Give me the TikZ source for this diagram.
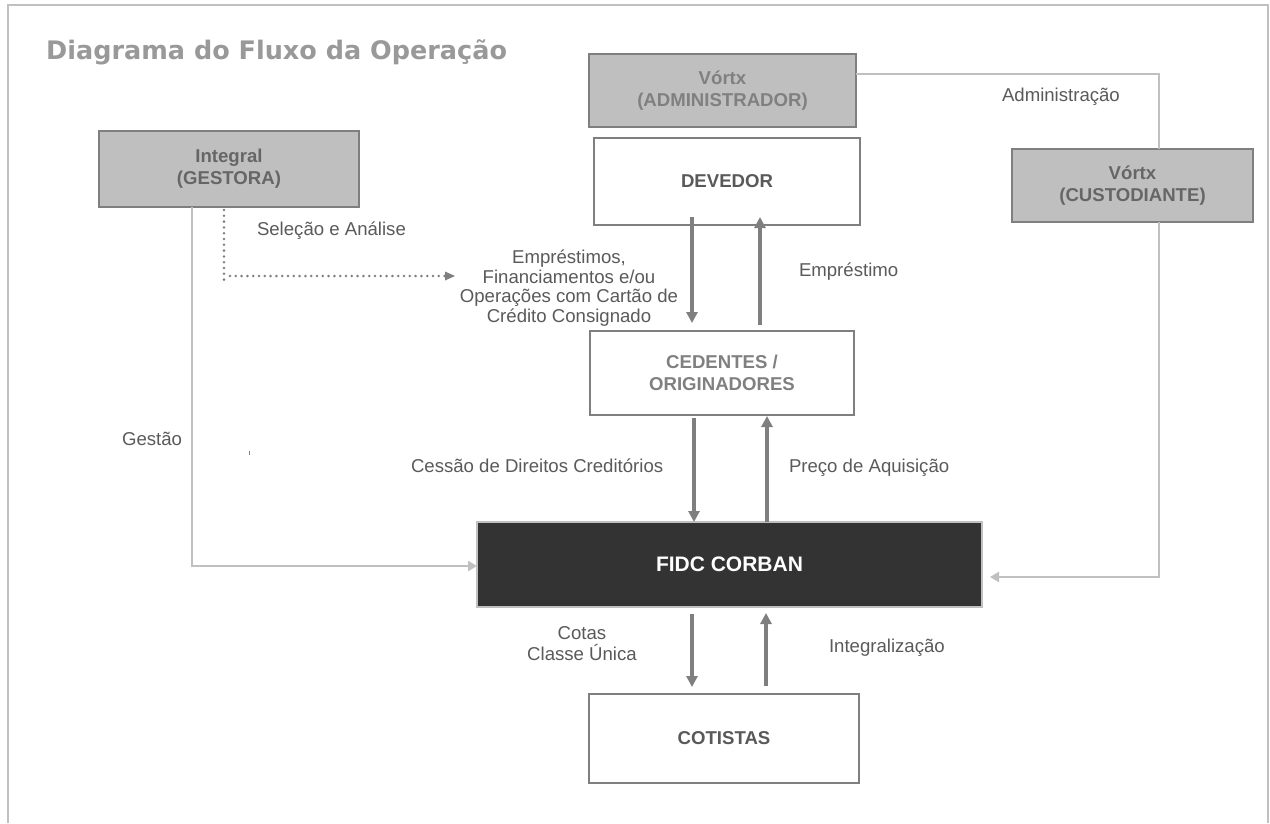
\documentclass[tikz,border=0pt]{standalone}
\usepackage{fontspec}
\setmainfont{Liberation Sans}
\newfontfamily\titlefont{DejaVu Sans}
\usetikzlibrary{arrows.meta}
\definecolor{boxgray}{HTML}{BFBFBF}
\definecolor{edgegray}{HTML}{7F7F7F}
\definecolor{lightline}{HTML}{C0C0C0}
\definecolor{labelgray}{HTML}{5A5A5A}
\definecolor{txtmid}{HTML}{666666}
\definecolor{txtlight}{HTML}{808080}
\definecolor{txtdark}{HTML}{595959}
\definecolor{titlegray}{HTML}{999999}
\definecolor{fidcfill}{HTML}{333333}
\tikzset{
  lbl/.style={font=\fontsize{18.6}{19.5}\selectfont, text=labelgray, inner sep=0pt, outer sep=0pt},
  boxbase/.style={rectangle, inner sep=0pt, outer sep=0pt, align=center,
    font=\fontsize{18.6}{22}\selectfont\bfseries},
  graybox/.style={boxbase, fill=boxgray, draw=edgegray, line width=2pt},
  whitebox/.style={boxbase, fill=white, draw=edgegray, line width=2pt},
  darkarrow/.style={draw=edgegray, line width=3.4pt, -{Triangle[length=11pt,width=11pt]}},
  lightline/.style={draw=lightline, line width=2.6pt},
  lightarrow/.style={lightline, -{Triangle[length=9pt,width=10pt]}},
  dotline/.style={draw=edgegray, line width=2.8pt, line cap=round, dash pattern=on 0pt off 5.8pt},
}
\begin{document}
\begin{tikzpicture}[x=1pt,y=-1pt]
\useasboundingbox (0,0) rectangle (1270,823);
\fill[white] (0,0) rectangle (1270,823);
% frame
\draw[lightline, line width=2pt] (8,823) -- (8,5) -- (1268,5) -- (1268,823);

% title
\node[anchor=base west, inner sep=0pt, text=titlegray,
      font=\titlefont\bfseries\fontsize{25.5}{28}\selectfont] (title) at (46,59)
      {Diagrama do Fluxo da Operação};

% boxes
\node[graybox, text=txtmid, minimum width=260pt, minimum height=76pt] (gest) at (229,169) {Integral\\(GESTORA)};
\node[graybox, text=txtlight, minimum width=267pt, minimum height=73pt] (admin) at (722.5,90.5) {Vórtx\\(ADMINISTRADOR)};
\node[whitebox, text=txtdark, minimum width=266pt, minimum height=87pt] (dev) at (727,181.5) {DEVEDOR};
\node[graybox, text=txtmid, minimum width=241pt, minimum height=73pt] (cust) at (1132.5,185.5) {Vórtx\\(CUSTODIANTE)};
\node[whitebox, text=txtlight, minimum width=264pt, minimum height=84pt] (ced) at (722,373) {CEDENTES /\\ORIGINADORES};
\node[boxbase, fill=fidcfill, draw=lightline, line width=2.4pt, text=white,
      font=\fontsize{21}{24}\selectfont\bfseries,
      minimum width=505pt, minimum height=85pt] (fidc) at (729.5,564.5) {FIDC CORBAN};
\node[whitebox, text=txtdark, minimum width=270pt, minimum height=89pt] (cot) at (724,738.5) {COTISTAS};

% helper coordinates
\coordinate (xa) at (692,0);
\coordinate (xb) at (760,0);
\coordinate (xc) at (694,0);
\coordinate (xd) at (767,0);
\coordinate (xe) at (692,0);
\coordinate (xf) at (766,0);
\coordinate (gcorner) at (192,566);
\coordinate (dbot) at (224,285);
\coordinate (dtip) at (455,276);
\coordinate (acorner) at (1159,74);
\coordinate (ccorner) at (1159,577);

% dark vertical arrows
\draw[darkarrow, shorten <=-8pt, shorten >=8pt] (dev.south -| xa) -- (ced.north -| xa);
\draw[darkarrow, shorten <=6pt, shorten >=-8pt] (ced.north -| xb) -- (dev.south -| xb);
\draw[darkarrow, shorten <=3pt] (ced.south -| xc) -- (fidc.north -| xc);
\draw[darkarrow, shorten >=1pt] (fidc.north -| xd) -- (ced.south -| xd);
\draw[darkarrow, shorten <=7pt, shorten >=7pt] (fidc.south -| xe) -- (cot.north -| xe);
\draw[darkarrow, shorten <=8pt, shorten >=6pt] (cot.north -| xf) -- (fidc.south -| xf);

% light connectors
\draw[lightarrow] (gest.south -| gcorner) -- (gcorner) -- (gcorner -| fidc.west);
\draw[lightline] (admin.east |- acorner) -- (acorner) -- (acorner |- cust.north);
\draw[lightarrow, shorten >=8pt] (cust.south -| ccorner) -- (ccorner) -- (ccorner -| fidc.east);

% dotted selection
\draw[dotline] ([yshift=-3pt]gest.south -| dbot) -- (dbot);
\draw[dotline] ([xshift=6pt]dbot |- dtip) -- ([xshift=-10pt]dtip);
\fill[edgegray] (dtip) -- ++(-10,-4.5) -- ++(0,9) -- cycle;

% small tick
\coordinate (tick) at (249,451);
\draw[edgegray, line width=0.8pt] (tick) -- ++(0,4);

% labels
\node[lbl, anchor=base west] (sel) at (257,235) {Seleção e Análise};
\node[lbl, anchor=base west] (adm) at (1002,101) {Administração};
\node[lbl, anchor=base west] (empr) at (799,276) {Empréstimo};
\node[lbl, align=center] (emps) at (569,288) {Empréstimos,\\Financiamentos e/ou\\Operações com Cartão de\\Crédito Consignado};
\node[lbl, anchor=base west] (cess) at (411,472) {Cessão de Direitos Creditórios};
\node[lbl, anchor=base west] (preco) at (789,472) {Preço de Aquisição};
\node[lbl, anchor=base east] (gestao) at (182,445) {Gestão};
\node[lbl, align=center, font=\fontsize{18.6}{21}\selectfont] (cotas) at (582,644) {Cotas\\Classe Única};
\node[lbl, anchor=base west] (integ) at (829,652) {Integralização};
\end{tikzpicture}
\end{document}
